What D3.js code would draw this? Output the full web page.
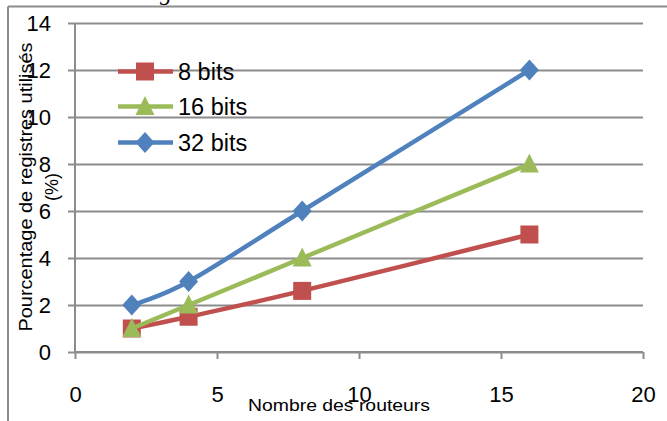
<!DOCTYPE html>
<html><head><meta charset="utf-8">
<script src="https://cdn.jsdelivr.net/npm/d3@7"></script>
<style>body{margin:0;background:#fff}svg{display:block}</style>
</head><body>
<script>
const routers = [2, 4, 8, 16];
const bits8 = [1, 1.5, 2.6, 5];
const bits16 = [1, 2, 4, 8];
const bits32 = [2, 3, 6, 12];
const seriesNames = ["8 bits", "16 bits", "32 bits"];
const xTicks = [0, 5, 10, 15, 20];
const yTicks = [0, 2, 4, 6, 8, 10, 12, 14];
const xTitle = "Nombre des routeurs";
const yTitle = ["Pourcentage de registres utilisés", "(%)"];

const W = 667, H = 421;
const font = "'Liberation Sans', Arial, sans-serif";
const svg = d3.select("body").append("svg").attr("width", W).attr("height", H);

// outer border fragments
svg.append("line").attr("x1", 8).attr("x2", W).attr("y1", 6.5).attr("y2", 6.5).attr("stroke", "#8c8c8c").attr("stroke-width", 2);
svg.append("line").attr("x1", 8).attr("x2", 8).attr("y1", 6.5).attr("y2", H).attr("stroke", "#8c8c8c").attr("stroke-width", 2);
svg.append("text").attr("x", 160).attr("y", -0.5).attr("font-family", "'Liberation Serif', serif").attr("font-style", "italic").attr("font-size", 24).text("g");

const x = d3.scaleLinear().domain([0, 20]).range([75, 643]);
const y = d3.scaleLinear().domain([0, 14]).range([352, 23]);

// gridlines
svg.append("g").attr("transform", "translate(75,0)")
  .call(d3.axisLeft(y).tickValues(yTicks).tickSize(-(643 - 75)).tickFormat(""))
  .call(g => g.select(".domain").remove())
  .call(g => g.selectAll("line").attr("stroke", "#8c8c8c").attr("stroke-width", 2));

// y axis
const ya = svg.append("g").attr("transform", "translate(75,0)")
  .call(d3.axisLeft(y).tickValues(yTicks).tickSize(7).tickPadding(17))
  .call(g => g.select(".domain").attr("stroke", "#8c8c8c").attr("stroke-width", 2))
  .call(g => g.selectAll("line").attr("stroke", "#8c8c8c").attr("stroke-width", 2))
  .call(g => g.selectAll("text").attr("font-family", font).attr("font-size", 22).attr("fill", "#000"));
ya.select(".domain").attr("d", `M0,${y(14)}V${y(0)}`);

// x axis
svg.append("g").attr("transform", `translate(0,${y(0)})`)
  .call(d3.axisBottom(x).tickValues(xTicks).tickSize(7).tickPadding(27))
  .call(g => g.select(".domain").attr("stroke", "#8c8c8c").attr("stroke-width", 2).attr("d", `M${x(0)},0H${x(20)}`))
  .call(g => g.selectAll("line").attr("stroke", "#8c8c8c").attr("stroke-width", 2))
  .call(g => g.selectAll("text").attr("font-family", font).attr("font-size", 22).attr("fill", "#000"));

// axis titles
svg.append("text").attr("x", 248).attr("y", 411).attr("font-family", font).attr("font-size", 17)
  .attr("textLength", 182).attr("lengthAdjust", "spacingAndGlyphs").text(xTitle);
const yt = svg.append("text").attr("transform", "translate(0,187) rotate(-90)")
  .attr("font-family", font).attr("font-size", 18).attr("text-anchor", "middle");
yt.append("tspan").attr("x", 0).attr("y", 32).attr("textLength", 289).attr("lengthAdjust", "spacingAndGlyphs").text(yTitle[0]);
yt.append("tspan").attr("x", 0).attr("y", 58).text(yTitle[1]);

const colors = ["#C0504D", "#9BBB59", "#4F81BD"];
const markerPaths = [
  "M-9,-9H9V9H-9Z",
  "M0,-10.5L9.5,8.5H-9.5Z",
  "M0,-10.5L9.5,0L0,10.5L-9.5,0Z"
];
const datasets = [bits8, bits16, bits32];

const line = d3.line().x((d, i) => x(routers[i])).y(d => y(d)).curve(d3.curveCatmullRom.alpha(0));

datasets.forEach((vals, s) => {
  svg.append("path").attr("d", line(vals)).attr("fill", "none").attr("stroke", colors[s]).attr("stroke-width", 4.5).attr("stroke-linejoin", "round");
  svg.selectAll(null).data(vals).enter().append("path")
    .attr("d", markerPaths[s])
    .attr("transform", (d, i) => `translate(${x(routers[i])},${y(d)})`)
    .attr("fill", colors[s]);
});

// legend
const ly = [71.5, 106.5, 142.5];
seriesNames.forEach((n, s) => {
  const g = svg.append("g").attr("transform", `translate(0,${ly[s]})`);
  g.append("line").attr("x1", 118).attr("x2", 173).attr("y1", 0).attr("y2", 0).attr("stroke", colors[s]).attr("stroke-width", 4.5);
  g.append("path").attr("d", markerPaths[s]).attr("transform", "translate(145,0)").attr("fill", colors[s]);
  g.append("text").attr("x", 178).attr("y", 0).attr("dy", "0.36em").attr("font-family", font).attr("font-size", 23.5).text(n);
});
</script>
</body></html>
